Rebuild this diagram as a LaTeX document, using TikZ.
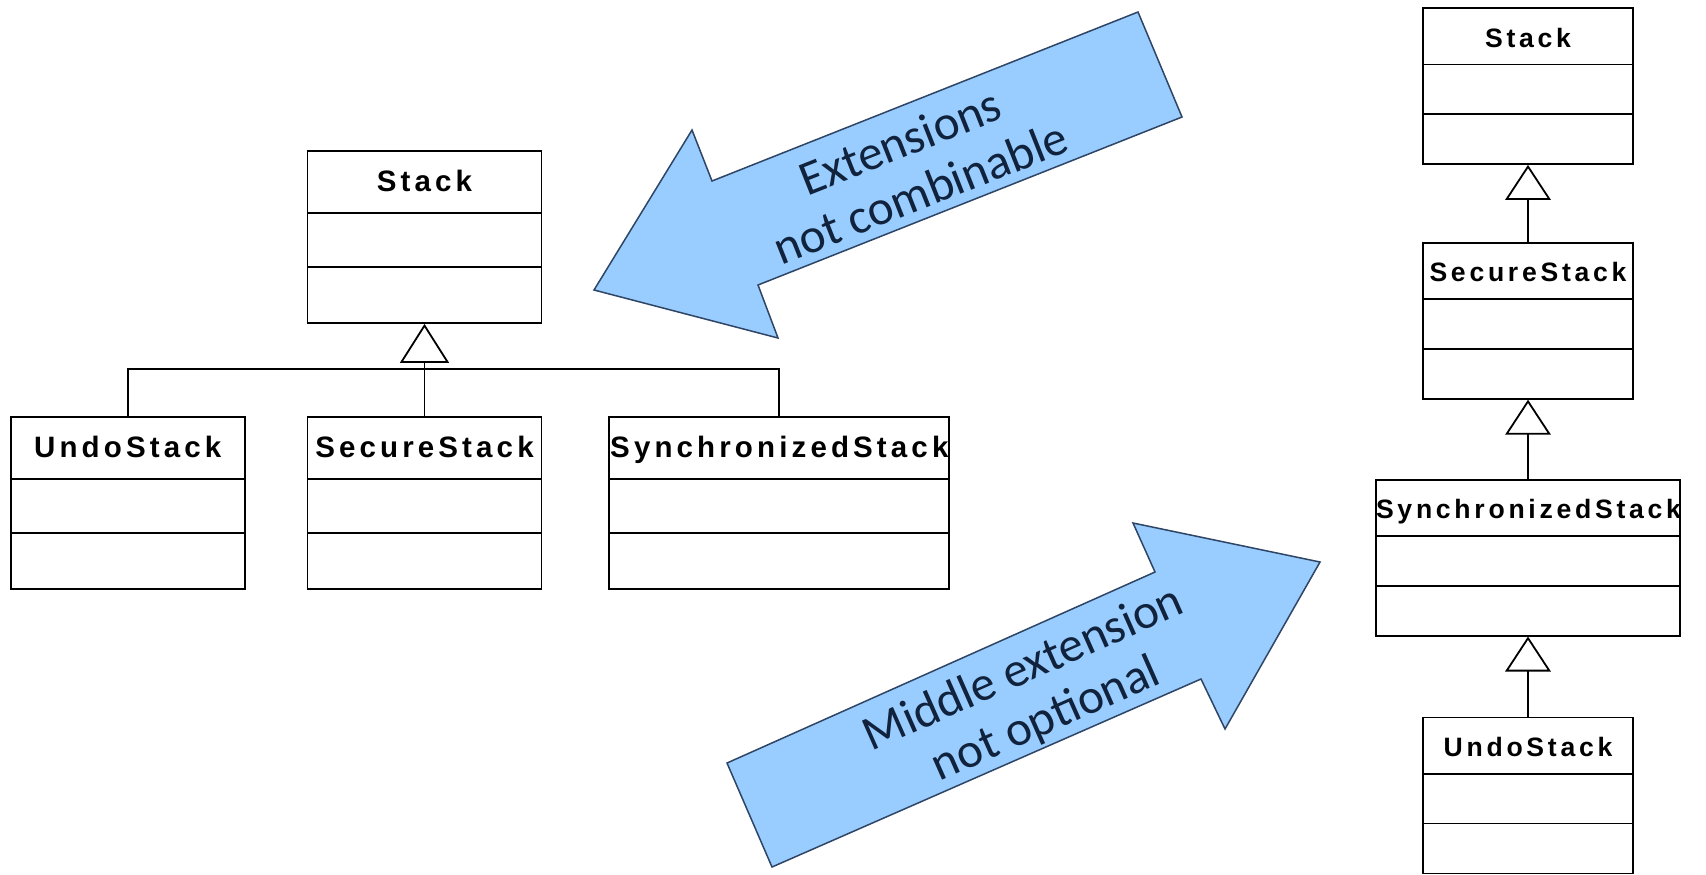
\documentclass[tikz,border=0pt]{standalone}
\usepackage{fontspec}
\usepackage{tikz}
\usetikzlibrary{positioning,arrows.meta}
\newfontfamily\umlfont[LetterSpace=14]{Liberation Sans}
\newfontfamily\notefont{Carlito}
\definecolor{arrowfill}{HTML}{99CCFF}
\definecolor{arrowline}{HTML}{2E4565}
\definecolor{notetext}{HTML}{10223C}
\tikzset{
    dividers/.style 2 args={
        path picture = {
            \draw[line width=0.9pt]
            ([yshift=-#1]path picture bounding box.north west) --
            ([yshift=-#1]path picture bounding box.north east)
            ([yshift=-#2]path picture bounding box.north west) --
            ([yshift=-#2]path picture bounding box.north east);
        }
    },
    bigclass/.style={
        draw, rectangle, line width=0.9pt, inner sep=0pt,
        text width=117pt, align=center,
        text height=20.25pt, text depth=65.75pt,
        font=\umlfont\bfseries\fontsize{14.75}{16}\selectfont,
        dividers={31pt}{58pt}
    },
    smallclass/.style={
        draw, rectangle, line width=0.9pt, inner sep=0pt,
        text width=105pt, align=center,
        text height=19.5pt, text depth=58.5pt,
        font=\umlfont\bfseries\fontsize{13.3}{15}\selectfont,
        dividers={28.25pt}{53pt}
    },
    wide/.style={text width=#1},
    inherit/.style={-{Triangle[open,width=24.5pt,length=19.5pt]}, line width=0.9pt},
    smallinherit/.style={-{Triangle[open,width=22.75pt,length=17.5pt]}, line width=0.9pt},
    bigarrow/.style={fill=arrowfill, draw=arrowline, line width=0.75pt},
    note/.style={text=notetext, align=center,
        font=\notefont\fontsize{24.5}{27.5}\selectfont}
}
\begin{document}
\begin{tikzpicture}[x=0.5pt,y=-0.5pt]
    \useasboundingbox[fill=white] (0,0) rectangle (1706,874);

    \node[bigclass] (stack) at (424.5,237) {Stack};
    \node[bigclass, below=46pt of stack] (secure) {SecureStack};
    \node[bigclass, left=30.5pt of secure] (undo) {UndoStack};
    \node[bigclass, wide=170pt, right=33pt of secure] (sync) {SynchronizedStack};
    \coordinate (bar) at ([yshift=-22.35pt]stack.south);

    \draw[inherit] (secure) -- (stack);
    \draw[line width=0.9pt] (undo.north) |- (bar) -| (sync.north);

    \node[smallclass] (rstack) at (1528,86) {Stack};
    \node[smallclass, below=38.5pt of rstack] (rsecure) {SecureStack};
    \node[smallclass, wide=152pt, below=39.5pt of rsecure] (rsync) {SynchronizedStack};
    \node[smallclass, below=40pt of rsync] (rundo) {UndoStack};

    \draw[smallinherit] (rsecure) -- (rstack);
    \draw[smallinherit] (rsync) -- (rsecure);
    \draw[smallinherit] (rundo) -- (rsync);

    \draw[bigarrow] (1138,12) -- (1182,117) -- (758,285) -- (778,338)
        -- (594,290) -- (692,130) -- (712,181) -- cycle;
    \node[note, rotate=21.6] (combine) at (910,167) {Extensions\\not combinable};

    \draw[bigarrow] (772,867) -- (727,763) -- (1155,572) -- (1133,523)
        -- (1320,562) -- (1225,729) -- (1201,679) -- cycle;
    \node[note, rotate=23.9] (middle) at (1035,695) {Middle extension\\not optional};
\end{tikzpicture}
\end{document}
